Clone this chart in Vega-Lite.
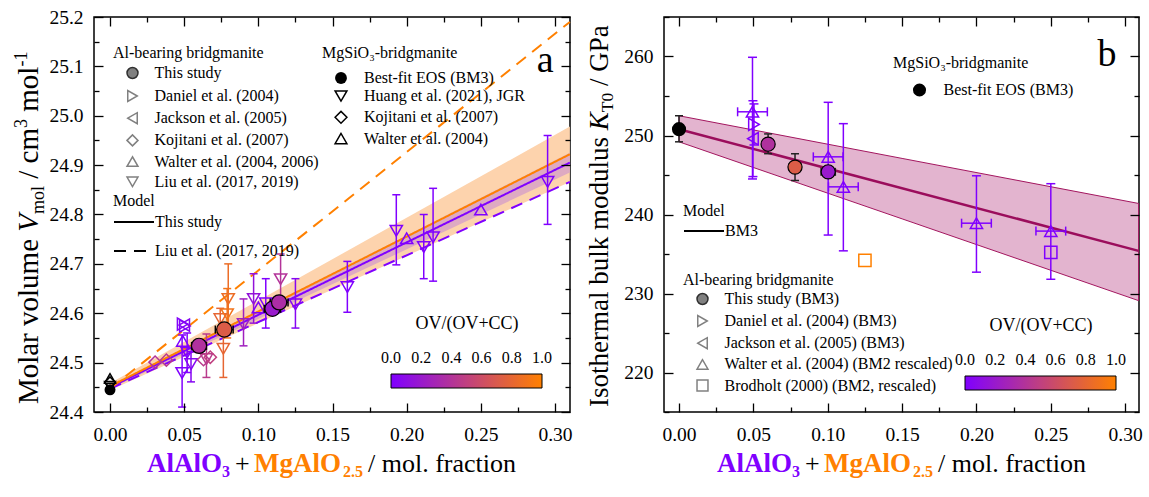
{
"$schema": "https://vega.github.io/schema/vega-lite/v6.json",
"background": "white",
"padding": {"left": 12, "top": 6, "right": 0, "bottom": 0},
"spacing": 10,
"config": {
  "font": "Liberation Serif",
  "view": {"stroke": "black", "strokeWidth": 1.5},
  "axis": {"labelFont": "Liberation Serif", "labelFontSize": 19.5, "labelColor": "black", "tickColor": "black", "tickWidth": 1.3, "domain": false, "grid": false, "labelFlush": false, "labelOverlap": false},
  "legend": {"labelFont": "Liberation Serif", "titleFont": "Liberation Serif", "labelColor": "black", "titleColor": "black", "titleFontWeight": "normal", "labelFontSize": 16, "titleFontSize": 16, "labelLimit": 400, "titleLimit": 400, "padding": 0, "symbolOpacity": 1},
  "text": {"font": "Liberation Serif", "color": "black"}
},
"datasets": {
  "ptsA": [
    {"s": "This study", "x": 0.060, "y": 24.534, "ov": 0.38, "xlo": 0.055, "xhi": 0.065},
    {"s": "This study", "x": 0.077, "y": 24.567, "ov": 0.72, "xlo": 0.071, "xhi": 0.083},
    {"s": "This study", "x": 0.1095, "y": 24.609, "ov": 0.2, "xlo": 0.104, "xhi": 0.115},
    {"s": "This study", "x": 0.114, "y": 24.622, "ov": 0.35, "xlo": 0.108, "xhi": 0.120},
    {"s": "Liu et al. (2017, 2019)", "x": 0.0486, "y": 24.479, "ov": 0.0, "ylo": 24.41, "yhi": 24.556},
    {"s": "Liu et al. (2017, 2019)", "x": 0.0546, "y": 24.497, "ov": 0.05, "ylo": 24.461, "yhi": 24.522},
    {"s": "Liu et al. (2017, 2019)", "x": 0.052, "y": 24.52, "ov": 0.02, "ylo": 24.48, "yhi": 24.56},
    {"s": "Liu et al. (2017, 2019)", "x": 0.065, "y": 24.507, "ov": 0.45, "ylo": 24.47, "yhi": 24.558},
    {"s": "Liu et al. (2017, 2019)", "x": 0.0764, "y": 24.528, "ov": 0.8, "ylo": 24.47, "yhi": 24.568},
    {"s": "Liu et al. (2017, 2019)", "x": 0.0743, "y": 24.588, "ov": 0.8, "ylo": 24.555, "yhi": 24.61},
    {"s": "Liu et al. (2017, 2019)", "x": 0.0797, "y": 24.629, "ov": 0.85, "ylo": 24.56, "yhi": 24.70},
    {"s": "Liu et al. (2017, 2019)", "x": 0.079, "y": 24.598, "ov": 0.9, "ylo": 24.55, "yhi": 24.65},
    {"s": "Liu et al. (2017, 2019)", "x": 0.09, "y": 24.578, "ov": 0.25, "ylo": 24.534, "yhi": 24.629},
    {"s": "Liu et al. (2017, 2019)", "x": 0.0968, "y": 24.629, "ov": 0.15, "ylo": 24.58, "yhi": 24.68},
    {"s": "Liu et al. (2017, 2019)", "x": 0.105, "y": 24.62, "ov": 0.0, "ylo": 24.57, "yhi": 24.67},
    {"s": "Liu et al. (2017, 2019)", "x": 0.115, "y": 24.669, "ov": 0.4, "ylo": 24.63, "yhi": 24.72},
    {"s": "Liu et al. (2017, 2019)", "x": 0.125, "y": 24.618, "ov": 0.05, "ylo": 24.57, "yhi": 24.67},
    {"s": "Liu et al. (2017, 2019)", "x": 0.16, "y": 24.653, "ov": 0.0, "ylo": 24.602, "yhi": 24.705},
    {"s": "Liu et al. (2017, 2019)", "x": 0.193, "y": 24.767, "ov": 0.0, "ylo": 24.698, "yhi": 24.84},
    {"s": "Liu et al. (2017, 2019)", "x": 0.2115, "y": 24.734, "ov": 0.0, "ylo": 24.67, "yhi": 24.80},
    {"s": "Liu et al. (2017, 2019)", "x": 0.2178, "y": 24.754, "ov": 0.0, "ylo": 24.665, "yhi": 24.853},
    {"s": "Liu et al. (2017, 2019)", "x": 0.295, "y": 24.866, "ov": 0.0, "ylo": 24.78, "yhi": 24.96},
    {"s": "Daniel et al. (2004)", "x": 0.049, "y": 24.578, "ov": 0.02},
    {"s": "Daniel et al. (2004)", "x": 0.0505, "y": 24.574, "ov": 0.02},
    {"s": "Jackson et al. (2005)", "x": 0.05, "y": 24.576, "ov": 0.05},
    {"s": "Kojitani et al. (2007)", "x": 0.0304, "y": 24.501, "ov": 0.4},
    {"s": "Kojitani et al. (2007)", "x": 0.038, "y": 24.505, "ov": 0.45},
    {"s": "Kojitani et al. (2007)", "x": 0.063, "y": 24.506, "ov": 0.45},
    {"s": "Kojitani et al. (2007)", "x": 0.0676, "y": 24.511, "ov": 0.5},
    {"s": "Walter et al. (2004, 2006)", "x": 0.049, "y": 24.544, "ov": 0.0},
    {"s": "Walter et al. (2004, 2006)", "x": 0.1, "y": 24.612, "ov": 0.0},
    {"s": "Walter et al. (2004, 2006)", "x": 0.2, "y": 24.752, "ov": 0.0},
    {"s": "Walter et al. (2004, 2006)", "x": 0.25, "y": 24.81, "ov": 0.0}
  ],
  "mgA": [
    {"s": "Walter et al. (2004)", "x": 0, "y": 24.468},
    {"s": "Kojitani et al. (2007)", "x": 0, "y": 24.46},
    {"s": "Huang et al. (2021), JGR", "x": 0, "y": 24.452},
    {"s": "Best-fit EOS (BM3)", "x": 0, "y": 24.445}
  ],
  "linesA": [
    {"curve": "ts0", "model": "This study", "ov": 0, "x": 0, "y": 24.45},
    {"curve": "ts0", "model": "This study", "ov": 0, "x": 0.31, "y": 24.905},
    {"curve": "ts1", "model": "This study", "ov": 1, "x": 0, "y": 24.452},
    {"curve": "ts1", "model": "This study", "ov": 1, "x": 0.31, "y": 24.922},
    {"curve": "liu0", "model": "Liu et al. (2017, 2019)", "ov": 0, "x": 0, "y": 24.447},
    {"curve": "liu0", "model": "Liu et al. (2017, 2019)", "ov": 0, "x": 0.31, "y": 24.866},
    {"curve": "liu1", "model": "Liu et al. (2017, 2019)", "ov": 1, "x": 0, "y": 24.447},
    {"curve": "liu1", "model": "Liu et al. (2017, 2019)", "ov": 1, "x": 0.31, "y": 25.19}
  ],
  "bandsA": [
    {"band": "OV", "x": 0, "lo": 24.444, "hi": 24.458},
    {"band": "OV", "x": 0.31, "lo": 24.866, "hi": 24.978},
    {"band": "CC", "x": 0, "lo": 24.447, "hi": 24.453},
    {"band": "CC", "x": 0.31, "lo": 24.885, "hi": 24.925}
  ],
  "ptsB": [
    {"s": "This study (BM3)", "x": 0.0599, "y": 248.9, "ov": 0.38, "ylo": 247.7, "yhi": 250.2, "xlo": 0.0565, "xhi": 0.0633},
    {"s": "This study (BM3)", "x": 0.078, "y": 246.0, "ov": 0.72, "ylo": 244.3, "yhi": 247.7, "xlo": 0.0742, "xhi": 0.0818},
    {"s": "This study (BM3)", "x": 0.1003, "y": 245.4, "ov": 0.2, "ylo": 244.7, "yhi": 246.1, "xlo": 0.0955, "xhi": 0.1051},
    {"s": "Walter et al. (2004) (BM2 rescaled)", "x": 0.0494, "y": 253.0, "ov": 0, "ylo": 244.5, "yhi": 259.9, "xlo": 0.0394, "xhi": 0.0594},
    {"s": "Walter et al. (2004) (BM2 rescaled)", "x": 0.1003, "y": 247.3, "ov": 0, "ylo": 237.4, "yhi": 254.2, "xlo": 0.0903, "xhi": 0.1103},
    {"s": "Walter et al. (2004) (BM2 rescaled)", "x": 0.1105, "y": 243.5, "ov": 0, "ylo": 235.4, "yhi": 251.5, "xlo": 0.1005, "xhi": 0.1205},
    {"s": "Walter et al. (2004) (BM2 rescaled)", "x": 0.2, "y": 238.9, "ov": 0, "ylo": 232.7, "yhi": 244.9, "xlo": 0.19, "xhi": 0.21},
    {"s": "Walter et al. (2004) (BM2 rescaled)", "x": 0.25, "y": 237.9, "ov": 0, "ylo": 231.8, "yhi": 243.9, "xlo": 0.24, "xhi": 0.26},
    {"s": "Daniel et al. (2004) (BM3)", "x": 0.0504, "y": 251.4, "ov": 0, "ylo": 248.8, "yhi": 254.0},
    {"s": "Jackson et al. (2005) (BM3)", "x": 0.0497, "y": 249.6, "ov": 0, "ylo": 244.8, "yhi": 254.4},
    {"s": "Brodholt (2000) (BM2, rescaled)", "x": 0.125, "y": 234.2, "ov": 1},
    {"s": "Brodholt (2000) (BM2, rescaled)", "x": 0.25, "y": 235.2, "ov": 0}
  ],
  "mgB": [
    {"s": "Best-fit EOS (BM3)", "x": 0, "y": 250.8, "ylo": 249.2, "yhi": 252.5}
  ],
  "linesB": [
    {"model": "BM3", "x": 0, "y": 250.8},
    {"model": "BM3", "x": 0.309, "y": 235.4}
  ],
  "bandsB": [
    {"x": 0, "lo": 249.2, "hi": 252.5},
    {"x": 0.15, "lo": 239.45, "hi": 247.1},
    {"x": 0.309, "lo": 229.1, "hi": 241.4}
  ]
},
"hconcat": [
{
  "width": 476, "height": 395,
  "layer": [
    {"data": {"name": "bandsA"}, "transform": [{"filter": "datum.band === 'OV'"}],
     "mark": {"type": "area", "color": "#fdd3ad", "opacity": 1},
     "encoding": {
       "x": {"field": "x", "type": "quantitative", "scale": {"domain": [-0.0108, 0.3101], "nice": false, "zero": false},
             "axis": {"orient": "bottom", "values": [0,0.025,0.05,0.075,0.1,0.125,0.15,0.175,0.2,0.225,0.25,0.275,0.3], "labelExpr": "round(datum.value*1000) % 50 === 0 ? format(datum.value, '.2f') : ''", "tickSize": {"condition": {"test": "round(datum.value*1000) % 50 === 0", "value": -9}, "value": -5}, "labelPadding": 22, "title": null, "zindex": 1}},
       "y": {"field": "lo", "type": "quantitative", "scale": {"domain": [24.4, 25.2], "nice": false, "zero": false},
             "axis": {"orient": "left", "values": [24.4,24.45,24.5,24.55,24.6,24.65,24.7,24.75,24.8,24.85,24.9,24.95,25.0,25.05,25.1,25.15,25.2], "labelExpr": "round(datum.value*100) % 10 === 0 ? format(datum.value, '.1f') : ''", "tickSize": {"condition": {"test": "round(datum.value*100) % 10 === 0", "value": -9}, "value": -5}, "labelPadding": 20, "title": null, "zindex": 1}},
       "y2": {"field": "hi"}
     }},
    {"data": {"name": "bandsA"}, "transform": [{"filter": "datum.band === 'CC'"}],
     "mark": {"type": "area", "color": "#d8a2c6", "opacity": 0.85},
     "encoding": {
       "x": {"field": "x", "type": "quantitative", "scale": {"domain": [-0.0108, 0.3101], "nice": false, "zero": false}, "axis": null},
       "y": {"field": "lo", "type": "quantitative", "scale": {"domain": [24.4, 25.2], "nice": false, "zero": false}, "axis": null},
       "y2": {"field": "hi"}
     }},
    {"data": {"name": "linesA"},
     "mark": {"type": "line", "strokeWidth": 2},
     "encoding": {
       "x": {"field": "x", "type": "quantitative", "scale": {"domain": [-0.0108, 0.3101], "nice": false, "zero": false},
             "axis": {"orient": "top", "values": [0,0.025,0.05,0.075,0.1,0.125,0.15,0.175,0.2,0.225,0.25,0.275,0.3], "labels": false, "tickSize": {"condition": {"test": "round(datum.value*1000) % 50 === 0", "value": -9}, "value": -5}, "title": null, "zindex": 1}},
       "y": {"field": "y", "type": "quantitative", "scale": {"domain": [24.4, 25.2], "nice": false, "zero": false},
             "axis": {"orient": "right", "values": [24.4,24.45,24.5,24.55,24.6,24.65,24.7,24.75,24.8,24.85,24.9,24.95,25.0,25.05,25.1,25.15,25.2], "labels": false, "tickSize": {"condition": {"test": "round(datum.value*100) % 10 === 0", "value": -9}, "value": -5}, "title": null, "zindex": 1}},
       "color": {"field": "ov", "type": "quantitative", "scale": {"domain": [0, 1], "range": ["#8000ff", "#ff8000"], "interpolate": "rgb"},
                 "legend": {"type": "gradient", "orient": "none", "legendX": 297, "legendY": 298, "direction": "horizontal", "title": "OV/(OV+CC)", "titleFontSize": 18, "titleAnchor": "middle", "titlePadding": 41, "gradientLength": 151, "gradientThickness": 14, "gradientStrokeColor": "black", "gradientStrokeWidth": 1, "values": [0.0001,0.2,0.4,0.6,0.8,0.9999], "format": ".1f", "labelFontSize": 16, "labelOffset": -38}},
       "strokeDash": {"field": "model", "type": "nominal", "scale": {"domain": ["This study", "Liu et al. (2017, 2019)"], "range": [[1,0],[12,8]]},
                 "legend": {"title": "Model", "orient": "none", "legendX": 19, "legendY": 176, "titlePadding": -8, "rowPadding": -14, "symbolType": "stroke", "symbolSize": 1600, "symbolStrokeWidth": 2, "symbolStrokeColor": "black", "symbolOffset": 0, "labelOffset": 0}},
       "detail": {"field": "curve"}
     }},
    {"data": {"name": "ptsA"},
     "layer": [
       {"transform": [{"filter": "isValid(datum.ylo) && datum.s !== 'This study'"}],
        "mark": {"type": "rule", "strokeWidth": 1.5},
        "encoding": {
          "x": {"field": "x", "type": "quantitative", "scale": {"domain": [-0.0108, 0.3101], "nice": false, "zero": false}, "axis": null},
          "y": {"field": "ylo", "type": "quantitative", "scale": {"domain": [24.4, 25.2], "nice": false, "zero": false}, "axis": null},
          "y2": {"field": "yhi"},
          "color": {"field": "ov", "type": "quantitative", "scale": {"domain": [0, 1], "range": ["#8000ff", "#ff8000"], "interpolate": "rgb"},
                    "legend": {"type": "gradient", "orient": "none", "legendX": 297, "legendY": 298, "direction": "horizontal", "title": "OV/(OV+CC)", "titleFontSize": 18, "titleAnchor": "middle", "titlePadding": 41, "gradientLength": 151, "gradientThickness": 14, "gradientStrokeColor": "black", "gradientStrokeWidth": 1, "values": [0.0001,0.2,0.4,0.6,0.8,0.9999], "format": ".1f", "labelFontSize": 16, "labelOffset": -38}}
        }},
       {"transform": [{"filter": "isValid(datum.ylo) && datum.s !== 'This study'"}, {"fold": ["ylo", "yhi"], "as": ["k", "cap"]}],
        "mark": {"type": "tick", "orient": "horizontal", "size": 8, "thickness": 1.5, "opacity": 1},
        "encoding": {
          "x": {"field": "x", "type": "quantitative", "scale": {"domain": [-0.0108, 0.3101], "nice": false, "zero": false}, "axis": null},
          "y": {"field": "cap", "type": "quantitative", "scale": {"domain": [24.4, 25.2], "nice": false, "zero": false}, "axis": null},
          "fill": {"field": "ov", "type": "quantitative", "scale": {"domain": [-0.0001, 1], "range": ["#8000ff", "#ff8000"], "interpolate": "rgb"}, "legend": null}
        }},
       {"transform": [{"filter": "datum.s !== 'This study'"}],
        "mark": {"type": "point", "filled": false, "strokeWidth": 1.5, "size": 150, "opacity": 1},
        "encoding": {
          "x": {"field": "x", "type": "quantitative", "scale": {"domain": [-0.0108, 0.3101], "nice": false, "zero": false}, "axis": null},
          "y": {"field": "y", "type": "quantitative", "scale": {"domain": [24.4, 25.2], "nice": false, "zero": false}, "axis": null},
          "color": {"field": "ov", "type": "quantitative", "scale": {"domain": [0, 1], "range": ["#8000ff", "#ff8000"], "interpolate": "rgb"},
                    "legend": {"type": "gradient", "orient": "none", "legendX": 297, "legendY": 298, "direction": "horizontal", "title": "OV/(OV+CC)", "titleFontSize": 18, "titleAnchor": "middle", "titlePadding": 41, "gradientLength": 151, "gradientThickness": 14, "gradientStrokeColor": "black", "gradientStrokeWidth": 1, "values": [0.0001,0.2,0.4,0.6,0.8,0.9999], "format": ".1f", "labelFontSize": 16, "labelOffset": -38}},
          "shape": {"field": "s", "type": "nominal", "scale": {"domain": ["Daniel et al. (2004)", "Jackson et al. (2005)", "Kojitani et al. (2007)", "Walter et al. (2004, 2006)", "Liu et al. (2017, 2019)"], "range": ["triangle-right", "triangle-left", "diamond", "triangle-up", "triangle-down"]},
                    "legend": {"title": null, "orient": "none", "legendX": 19, "legendY": 71, "rowPadding": 4.2, "symbolSize": 120, "symbolStrokeWidth": 1.5, "symbolOffset": 11.5, "labelOffset": 14, "symbolStrokeColor": "#808080"}}
        }},
       {"transform": [{"filter": "datum.s === 'This study'"}],
        "mark": {"type": "rule", "strokeWidth": 1.5, "color": "black"},
        "encoding": {
          "x": {"field": "xlo", "type": "quantitative", "scale": {"domain": [-0.0108, 0.3101], "nice": false, "zero": false}, "axis": null},
          "x2": {"field": "xhi"},
          "y": {"field": "y", "type": "quantitative", "scale": {"domain": [24.4, 25.2], "nice": false, "zero": false}, "axis": null}
        }},
       {"transform": [{"filter": "datum.s === 'This study'"}, {"fold": ["xlo", "xhi"], "as": ["k", "cap"]}],
        "mark": {"type": "tick", "orient": "vertical", "size": 8, "thickness": 1.5, "color": "black", "opacity": 1},
        "encoding": {
          "x": {"field": "cap", "type": "quantitative", "scale": {"domain": [-0.0108, 0.3101], "nice": false, "zero": false}, "axis": null},
          "y": {"field": "y", "type": "quantitative", "scale": {"domain": [24.4, 25.2], "nice": false, "zero": false}, "axis": null}
        }},
       {"transform": [{"filter": "datum.s === 'This study'"}],
        "mark": {"type": "point", "filled": true, "stroke": "black", "strokeWidth": 1.2, "size": 230, "opacity": 1},
        "encoding": {
          "x": {"field": "x", "type": "quantitative", "scale": {"domain": [-0.0108, 0.3101], "nice": false, "zero": false}, "axis": null},
          "y": {"field": "y", "type": "quantitative", "scale": {"domain": [24.4, 25.2], "nice": false, "zero": false}, "axis": null},
          "fill": {"field": "ov", "type": "quantitative", "scale": {"domain": [-0.0001, 1], "range": ["#8000ff", "#ff8000"], "interpolate": "rgb"}, "legend": null},
          "shape": {"field": "s", "type": "nominal", "scale": {"domain": ["This study"], "range": ["circle"]},
                    "legend": {"title": "Al-bearing bridgmanite", "orient": "none", "legendX": 19, "legendY": 28, "titlePadding": 4, "symbolSize": 120, "symbolStrokeWidth": 1.5, "symbolOffset": 11.5, "labelOffset": 14, "symbolFillColor": "#808080", "symbolStrokeColor": "#303030"}}
        }}
     ],
     "resolve": {"scale": {"shape": "independent"}}},
    {"data": {"name": "mgA"},
     "layer": [
       {"transform": [{"filter": "datum.s !== 'Best-fit EOS (BM3)'"}],
        "mark": {"type": "point", "filled": false, "color": "black", "strokeWidth": 1.5, "size": 120, "opacity": 1},
        "encoding": {
          "x": {"field": "x", "type": "quantitative", "scale": {"domain": [-0.0108, 0.3101], "nice": false, "zero": false}, "axis": null},
          "y": {"field": "y", "type": "quantitative", "scale": {"domain": [24.4, 25.2], "nice": false, "zero": false}, "axis": null},
          "shape": {"field": "s", "type": "nominal", "scale": {"domain": ["Huang et al. (2021), JGR", "Kojitani et al. (2007)", "Walter et al. (2004)"], "range": ["triangle-down", "diamond", "triangle-up"]},
                    "legend": {"title": null, "orient": "none", "legendX": 228, "legendY": 71, "rowPadding": 3.3, "symbolSize": 140, "symbolStrokeWidth": 1.5, "symbolOffset": 11, "labelOffset": 15}}
        }},
       {"transform": [{"filter": "datum.s === 'Best-fit EOS (BM3)'"}],
        "mark": {"type": "point", "filled": true, "color": "black", "size": 120, "opacity": 1},
        "encoding": {
          "x": {"field": "x", "type": "quantitative", "scale": {"domain": [-0.0108, 0.3101], "nice": false, "zero": false}, "axis": null},
          "y": {"field": "y", "type": "quantitative", "scale": {"domain": [24.4, 25.2], "nice": false, "zero": false}, "axis": null},
          "shape": {"field": "s", "type": "nominal", "scale": {"domain": ["Best-fit EOS (BM3)"], "range": ["circle"]},
                    "legend": {"title": "MgSiO₃-bridgmanite", "orient": "none", "legendX": 228, "legendY": 28, "titlePadding": 9, "symbolSize": 140, "symbolStrokeWidth": 1.5, "symbolOffset": 11, "labelOffset": 15}}
        }}
     ],
     "resolve": {"scale": {"shape": "independent"}}},
    {"data": {"values": [{}]},
     "mark": {"type": "text", "text": "a", "fontSize": 38, "align": "center", "baseline": "middle"},
     "encoding": {
       "x": {"datum": 0.2933, "type": "quantitative", "scale": {"domain": [-0.0108, 0.3101], "nice": false, "zero": false}, "axis": null},
       "y": {"datum": 25.111, "type": "quantitative", "scale": {"domain": [24.4, 25.2], "nice": false, "zero": false}, "axis": null}
     }},
    {"data": {"values": [{}]},
     "encoding": {
       "x": {"datum": 0.0249, "type": "quantitative", "scale": {"domain": [-0.0108, 0.3101], "nice": false, "zero": false}, "axis": null},
       "y": {"datum": 24.2785, "type": "quantitative", "scale": {"domain": [24.4, 25.2], "nice": false, "zero": false}, "axis": null}
     },
     "layer": [
       {"mark": {"type": "text", "text": "AlAlO", "fontSize": 27, "fontWeight": "bold", "color": "#8000ff", "align": "left", "baseline": "alphabetic"}},
       {"mark": {"type": "text", "text": "3", "fontSize": 16, "fontWeight": "bold", "color": "#8000ff", "align": "left", "baseline": "alphabetic", "dx": 75, "dy": 5}},
       {"mark": {"type": "text", "text": "+", "fontSize": 26, "align": "left", "baseline": "alphabetic", "dx": 88}},
       {"mark": {"type": "text", "text": "MgAlO", "fontSize": 27, "fontWeight": "bold", "color": "#ff8000", "align": "left", "baseline": "alphabetic", "dx": 107}},
       {"mark": {"type": "text", "text": "2.5", "fontSize": 16, "fontWeight": "bold", "color": "#ff8000", "align": "left", "baseline": "alphabetic", "dx": 196, "dy": 5}},
       {"mark": {"type": "text", "text": "/ mol. fraction", "fontSize": 26, "align": "left", "baseline": "alphabetic", "dx": 221}}
     ]},
    {"data": {"values": [{}]},
     "encoding": {
       "x": {"datum": -0.04855, "type": "quantitative", "scale": {"domain": [-0.0108, 0.3101], "nice": false, "zero": false}, "axis": null},
       "y": {"datum": 24.416, "type": "quantitative", "scale": {"domain": [24.4, 25.2], "nice": false, "zero": false}, "axis": null}
     },
     "layer": [
       {"mark": {"type": "text", "text": "Molar volume", "fontSize": 29, "angle": 270, "align": "left", "baseline": "alphabetic"}},
       {"mark": {"type": "text", "text": "V", "fontSize": 29, "fontStyle": "italic", "angle": 270, "align": "left", "baseline": "alphabetic", "dx": 172.4}},
       {"mark": {"type": "text", "text": "mol", "fontSize": 18, "angle": 270, "align": "left", "baseline": "alphabetic", "dx": 190.1, "dy": 6}},
       {"mark": {"type": "text", "text": "/ cm", "fontSize": 29, "angle": 270, "align": "left", "baseline": "alphabetic", "dx": 225.4}},
       {"mark": {"type": "text", "text": "3", "fontSize": 18, "angle": 270, "align": "left", "baseline": "alphabetic", "dx": 276.1, "dy": -11}},
       {"mark": {"type": "text", "text": "mol", "fontSize": 29, "angle": 270, "align": "left", "baseline": "alphabetic", "dx": 292.4}},
       {"mark": {"type": "text", "text": "-1", "fontSize": 18, "angle": 270, "align": "left", "baseline": "alphabetic", "dx": 337.5, "dy": -11}}
     ]}
  ],
  "resolve": {"scale": {"shape": "independent"}, "axis": {"x": "independent", "y": "independent"}}
},
{
  "width": 475, "height": 395,
  "layer": [
    {"data": {"name": "bandsB"},
     "mark": {"type": "area", "fill": "#e3b4cf", "stroke": "#a3165f", "strokeWidth": 1, "opacity": 1},
     "encoding": {
       "x": {"field": "x", "type": "quantitative", "scale": {"domain": [-0.0101, 0.3093], "nice": false, "zero": false},
             "axis": {"orient": "bottom", "values": [0,0.025,0.05,0.075,0.1,0.125,0.15,0.175,0.2,0.225,0.25,0.275,0.3], "labelExpr": "round(datum.value*1000) % 50 === 0 ? format(datum.value, '.2f') : ''", "tickSize": {"condition": {"test": "round(datum.value*1000) % 50 === 0", "value": -9}, "value": -5}, "labelPadding": 22, "title": null, "zindex": 1}},
       "y": {"field": "lo", "type": "quantitative", "scale": {"domain": [215, 265], "nice": false, "zero": false},
             "axis": {"orient": "left", "values": [215,220,225,230,235,240,245,250,255,260,265], "labelExpr": "datum.value % 10 === 0 ? format(datum.value, 'd') : ''", "tickSize": {"condition": {"test": "datum.value % 10 === 0", "value": -9}, "value": -5}, "labelPadding": 20, "title": null, "zindex": 1}},
       "y2": {"field": "hi"}
     }},
    {"data": {"name": "linesB"},
     "mark": {"type": "line", "color": "#9b0d5c", "strokeWidth": 2.5},
     "encoding": {
       "x": {"field": "x", "type": "quantitative", "scale": {"domain": [-0.0101, 0.3093], "nice": false, "zero": false},
             "axis": {"orient": "top", "values": [0,0.025,0.05,0.075,0.1,0.125,0.15,0.175,0.2,0.225,0.25,0.275,0.3], "labels": false, "tickSize": {"condition": {"test": "round(datum.value*1000) % 50 === 0", "value": -9}, "value": -5}, "title": null, "zindex": 1}},
       "y": {"field": "y", "type": "quantitative", "scale": {"domain": [215, 265], "nice": false, "zero": false},
             "axis": {"orient": "right", "values": [215,220,225,230,235,240,245,250,255,260,265], "labels": false, "tickSize": {"condition": {"test": "datum.value % 10 === 0", "value": -9}, "value": -5}, "title": null, "zindex": 1}}
     }},
    {"data": {"name": "linesB"},
     "mark": {"type": "line", "color": "black", "strokeWidth": 2, "opacity": 0},
     "encoding": {
       "x": {"field": "x", "type": "quantitative", "scale": {"domain": [-0.0101, 0.3093], "nice": false, "zero": false}, "axis": null},
       "y": {"field": "y", "type": "quantitative", "scale": {"domain": [215, 265], "nice": false, "zero": false}, "axis": null},
       "strokeDash": {"field": "model", "type": "nominal", "scale": {"domain": ["BM3"], "range": [[1,0]]},
                      "legend": {"title": "Model", "orient": "none", "legendX": 19, "legendY": 186, "titlePadding": -9, "symbolType": "stroke", "symbolSize": 1600, "symbolStrokeWidth": 2, "symbolStrokeColor": "black", "symbolOffset": 0, "labelOffset": 0}}
     }},
    {"data": {"name": "ptsB"},
     "layer": [
       {"transform": [{"filter": "isValid(datum.ylo) && datum.s !== 'This study (BM3)'"}],
        "mark": {"type": "rule", "strokeWidth": 1.5},
        "encoding": {
          "x": {"field": "x", "type": "quantitative", "scale": {"domain": [-0.0101, 0.3093], "nice": false, "zero": false}, "axis": null},
          "y": {"field": "ylo", "type": "quantitative", "scale": {"domain": [215, 265], "nice": false, "zero": false}, "axis": null},
          "y2": {"field": "yhi"},
          "color": {"field": "ov", "type": "quantitative", "scale": {"domain": [0, 1], "range": ["#8000ff", "#ff8000"], "interpolate": "rgb"},
                    "legend": {"type": "gradient", "orient": "none", "legendX": 301, "legendY": 300, "direction": "horizontal", "title": "OV/(OV+CC)", "titleFontSize": 18, "titleAnchor": "middle", "titlePadding": 41, "gradientLength": 151, "gradientThickness": 14, "gradientStrokeColor": "black", "gradientStrokeWidth": 1, "values": [0.0001,0.2,0.4,0.6,0.8,0.9999], "format": ".1f", "labelFontSize": 16, "labelOffset": -38}}
        }},
       {"transform": [{"filter": "isValid(datum.ylo) && datum.s !== 'This study (BM3)'"}, {"fold": ["ylo", "yhi"], "as": ["k", "cap"]}],
        "mark": {"type": "tick", "orient": "horizontal", "size": 9, "thickness": 1.5, "opacity": 1},
        "encoding": {
          "x": {"field": "x", "type": "quantitative", "scale": {"domain": [-0.0101, 0.3093], "nice": false, "zero": false}, "axis": null},
          "y": {"field": "cap", "type": "quantitative", "scale": {"domain": [215, 265], "nice": false, "zero": false}, "axis": null},
          "fill": {"field": "ov", "type": "quantitative", "scale": {"domain": [-0.0001, 1], "range": ["#8000ff", "#ff8000"], "interpolate": "rgb"}, "legend": null}
        }},
       {"transform": [{"filter": "isValid(datum.xlo) && datum.s !== 'This study (BM3)'"}],
        "mark": {"type": "rule", "strokeWidth": 1.5},
        "encoding": {
          "x": {"field": "xlo", "type": "quantitative", "scale": {"domain": [-0.0101, 0.3093], "nice": false, "zero": false}, "axis": null},
          "x2": {"field": "xhi"},
          "y": {"field": "y", "type": "quantitative", "scale": {"domain": [215, 265], "nice": false, "zero": false}, "axis": null},
          "color": {"field": "ov", "type": "quantitative", "scale": {"domain": [0, 1], "range": ["#8000ff", "#ff8000"], "interpolate": "rgb"},
                    "legend": {"type": "gradient", "orient": "none", "legendX": 301, "legendY": 300, "direction": "horizontal", "title": "OV/(OV+CC)", "titleFontSize": 18, "titleAnchor": "middle", "titlePadding": 41, "gradientLength": 151, "gradientThickness": 14, "gradientStrokeColor": "black", "gradientStrokeWidth": 1, "values": [0.0001,0.2,0.4,0.6,0.8,0.9999], "format": ".1f", "labelFontSize": 16, "labelOffset": -38}}
        }},
       {"transform": [{"filter": "isValid(datum.xlo) && datum.s !== 'This study (BM3)'"}, {"fold": ["xlo", "xhi"], "as": ["k", "cap"]}],
        "mark": {"type": "tick", "orient": "vertical", "size": 9, "thickness": 1.5, "opacity": 1},
        "encoding": {
          "x": {"field": "cap", "type": "quantitative", "scale": {"domain": [-0.0101, 0.3093], "nice": false, "zero": false}, "axis": null},
          "y": {"field": "y", "type": "quantitative", "scale": {"domain": [215, 265], "nice": false, "zero": false}, "axis": null},
          "fill": {"field": "ov", "type": "quantitative", "scale": {"domain": [-0.0001, 1], "range": ["#8000ff", "#ff8000"], "interpolate": "rgb"}, "legend": null}
        }},
       {"transform": [{"filter": "datum.s !== 'This study (BM3)'"}],
        "mark": {"type": "point", "filled": false, "strokeWidth": 1.5, "size": 150, "opacity": 1},
        "encoding": {
          "x": {"field": "x", "type": "quantitative", "scale": {"domain": [-0.0101, 0.3093], "nice": false, "zero": false}, "axis": null},
          "y": {"field": "y", "type": "quantitative", "scale": {"domain": [215, 265], "nice": false, "zero": false}, "axis": null},
          "color": {"field": "ov", "type": "quantitative", "scale": {"domain": [0, 1], "range": ["#8000ff", "#ff8000"], "interpolate": "rgb"},
                    "legend": {"type": "gradient", "orient": "none", "legendX": 301, "legendY": 300, "direction": "horizontal", "title": "OV/(OV+CC)", "titleFontSize": 18, "titleAnchor": "middle", "titlePadding": 41, "gradientLength": 151, "gradientThickness": 14, "gradientStrokeColor": "black", "gradientStrokeWidth": 1, "values": [0.0001,0.2,0.4,0.6,0.8,0.9999], "format": ".1f", "labelFontSize": 16, "labelOffset": -38}},
          "shape": {"field": "s", "type": "nominal", "scale": {"domain": ["Daniel et al. (2004) (BM3)", "Jackson et al. (2005) (BM3)", "Walter et al. (2004) (BM2 rescaled)", "Brodholt (2000) (BM2, rescaled)"], "range": ["triangle-right", "triangle-left", "triangle-up", "square"]},
                    "legend": {"title": null, "orient": "none", "legendX": 19, "legendY": 296, "rowPadding": 4.2, "symbolSize": 120, "symbolStrokeWidth": 1.5, "symbolOffset": 11.5, "labelOffset": 14, "symbolStrokeColor": "#808080"}}
        }},
       {"transform": [{"filter": "datum.s === 'This study (BM3)'"}],
        "mark": {"type": "rule", "strokeWidth": 1.5, "color": "#222222"},
        "encoding": {
          "x": {"field": "x", "type": "quantitative", "scale": {"domain": [-0.0101, 0.3093], "nice": false, "zero": false}, "axis": null},
          "y": {"field": "ylo", "type": "quantitative", "scale": {"domain": [215, 265], "nice": false, "zero": false}, "axis": null},
          "y2": {"field": "yhi"}
        }},
       {"transform": [{"filter": "datum.s === 'This study (BM3)'"}, {"fold": ["ylo", "yhi"], "as": ["k", "cap"]}],
        "mark": {"type": "tick", "orient": "horizontal", "size": 8, "thickness": 1.5, "color": "#222222", "opacity": 1},
        "encoding": {
          "x": {"field": "x", "type": "quantitative", "scale": {"domain": [-0.0101, 0.3093], "nice": false, "zero": false}, "axis": null},
          "y": {"field": "cap", "type": "quantitative", "scale": {"domain": [215, 265], "nice": false, "zero": false}, "axis": null}
        }},
       {"transform": [{"filter": "datum.s === 'This study (BM3)'"}],
        "mark": {"type": "rule", "strokeWidth": 1.5, "color": "#222222"},
        "encoding": {
          "x": {"field": "xlo", "type": "quantitative", "scale": {"domain": [-0.0101, 0.3093], "nice": false, "zero": false}, "axis": null},
          "x2": {"field": "xhi"},
          "y": {"field": "y", "type": "quantitative", "scale": {"domain": [215, 265], "nice": false, "zero": false}, "axis": null}
        }},
       {"transform": [{"filter": "datum.s === 'This study (BM3)'"}, {"fold": ["xlo", "xhi"], "as": ["k", "cap"]}],
        "mark": {"type": "tick", "orient": "vertical", "size": 8, "thickness": 1.5, "color": "#222222", "opacity": 1},
        "encoding": {
          "x": {"field": "cap", "type": "quantitative", "scale": {"domain": [-0.0101, 0.3093], "nice": false, "zero": false}, "axis": null},
          "y": {"field": "y", "type": "quantitative", "scale": {"domain": [215, 265], "nice": false, "zero": false}, "axis": null}
        }},
       {"transform": [{"filter": "datum.s === 'This study (BM3)'"}],
        "mark": {"type": "point", "filled": true, "stroke": "black", "strokeWidth": 1.2, "size": 200, "opacity": 1},
        "encoding": {
          "x": {"field": "x", "type": "quantitative", "scale": {"domain": [-0.0101, 0.3093], "nice": false, "zero": false}, "axis": null},
          "y": {"field": "y", "type": "quantitative", "scale": {"domain": [215, 265], "nice": false, "zero": false}, "axis": null},
          "fill": {"field": "ov", "type": "quantitative", "scale": {"domain": [-0.0001, 1], "range": ["#8000ff", "#ff8000"], "interpolate": "rgb"}, "legend": null},
          "shape": {"field": "s", "type": "nominal", "scale": {"domain": ["This study (BM3)"], "range": ["circle"]},
                    "legend": {"title": "Al-bearing bridgmanite", "orient": "none", "legendX": 19, "legendY": 255, "titlePadding": 3, "symbolSize": 120, "symbolStrokeWidth": 1.5, "symbolOffset": 11.5, "labelOffset": 14, "symbolFillColor": "#808080", "symbolStrokeColor": "#303030"}}
        }}
     ],
     "resolve": {"scale": {"shape": "independent"}}},
    {"data": {"name": "mgB"},
     "layer": [
       {"mark": {"type": "rule", "strokeWidth": 1.5, "color": "#222222"},
        "encoding": {
          "x": {"field": "x", "type": "quantitative", "scale": {"domain": [-0.0101, 0.3093], "nice": false, "zero": false}, "axis": null},
          "y": {"field": "ylo", "type": "quantitative", "scale": {"domain": [215, 265], "nice": false, "zero": false}, "axis": null},
          "y2": {"field": "yhi"}
        }},
       {"transform": [{"fold": ["ylo", "yhi"], "as": ["k", "cap"]}],
        "mark": {"type": "tick", "orient": "horizontal", "size": 8, "thickness": 1.5, "color": "#222222", "opacity": 1},
        "encoding": {
          "x": {"field": "x", "type": "quantitative", "scale": {"domain": [-0.0101, 0.3093], "nice": false, "zero": false}, "axis": null},
          "y": {"field": "cap", "type": "quantitative", "scale": {"domain": [215, 265], "nice": false, "zero": false}, "axis": null}
        }},
       {"mark": {"type": "point", "filled": true, "color": "black", "size": 200, "opacity": 1},
        "encoding": {
          "x": {"field": "x", "type": "quantitative", "scale": {"domain": [-0.0101, 0.3093], "nice": false, "zero": false}, "axis": null},
          "y": {"field": "y", "type": "quantitative", "scale": {"domain": [215, 265], "nice": false, "zero": false}, "axis": null},
          "shape": {"field": "s", "type": "nominal", "scale": {"domain": ["Best-fit EOS (BM3)"], "range": ["circle"]},
                    "legend": {"title": "MgSiO₃-bridgmanite", "orient": "none", "legendX": 229, "legendY": 38, "titlePadding": 11, "symbolSize": 170, "symbolOffset": 18.5, "labelOffset": 16}}
        }}
     ]},
    {"data": {"values": [{}]},
     "mark": {"type": "text", "text": "b", "fontSize": 38, "align": "center", "baseline": "middle"},
     "encoding": {
       "x": {"datum": 0.2878, "type": "quantitative", "scale": {"domain": [-0.0101, 0.3093], "nice": false, "zero": false}, "axis": null},
       "y": {"datum": 260.2, "type": "quantitative", "scale": {"domain": [215, 265], "nice": false, "zero": false}, "axis": null}
     }},
    {"data": {"values": [{}]},
     "encoding": {
       "x": {"datum": 0.02555, "type": "quantitative", "scale": {"domain": [-0.0101, 0.3093], "nice": false, "zero": false}, "axis": null},
       "y": {"datum": 207.41, "type": "quantitative", "scale": {"domain": [215, 265], "nice": false, "zero": false}, "axis": null}
     },
     "layer": [
       {"mark": {"type": "text", "text": "AlAlO", "fontSize": 27, "fontWeight": "bold", "color": "#8000ff", "align": "left", "baseline": "alphabetic"}},
       {"mark": {"type": "text", "text": "3", "fontSize": 16, "fontWeight": "bold", "color": "#8000ff", "align": "left", "baseline": "alphabetic", "dx": 75, "dy": 5}},
       {"mark": {"type": "text", "text": "+", "fontSize": 26, "align": "left", "baseline": "alphabetic", "dx": 88}},
       {"mark": {"type": "text", "text": "MgAlO", "fontSize": 27, "fontWeight": "bold", "color": "#ff8000", "align": "left", "baseline": "alphabetic", "dx": 107}},
       {"mark": {"type": "text", "text": "2.5", "fontSize": 16, "fontWeight": "bold", "color": "#ff8000", "align": "left", "baseline": "alphabetic", "dx": 196, "dy": 5}},
       {"mark": {"type": "text", "text": "/ mol. fraction", "fontSize": 26, "align": "left", "baseline": "alphabetic", "dx": 221}}
     ]},
    {"data": {"values": [{}]},
     "encoding": {
       "x": {"datum": -0.0477, "type": "quantitative", "scale": {"domain": [-0.0101, 0.3093], "nice": false, "zero": false}, "axis": null},
       "y": {"datum": 215.63, "type": "quantitative", "scale": {"domain": [215, 265], "nice": false, "zero": false}, "axis": null}
     },
     "layer": [
       {"mark": {"type": "text", "text": "Isothermal bulk modulus", "fontSize": 27, "angle": 270, "align": "left", "baseline": "alphabetic"}},
       {"mark": {"type": "text", "text": "K", "fontSize": 27, "fontStyle": "italic", "angle": 270, "align": "left", "baseline": "alphabetic", "dx": 276.8}},
       {"mark": {"type": "text", "text": "T0", "fontSize": 17.5, "angle": 270, "align": "left", "baseline": "alphabetic", "dx": 294.8, "dy": 5}},
       {"mark": {"type": "text", "text": "/ GPa", "fontSize": 27, "angle": 270, "align": "left", "baseline": "alphabetic", "dx": 320.9}}
     ]}
  ],
  "resolve": {"scale": {"shape": "independent"}, "axis": {"x": "independent", "y": "independent"}}
}
],
"resolve": {"scale": {"color": "independent", "fill": "independent", "shape": "independent", "strokeDash": "independent"}, "legend": {"color": "independent", "fill": "independent", "shape": "independent", "strokeDash": "independent"}}
}
